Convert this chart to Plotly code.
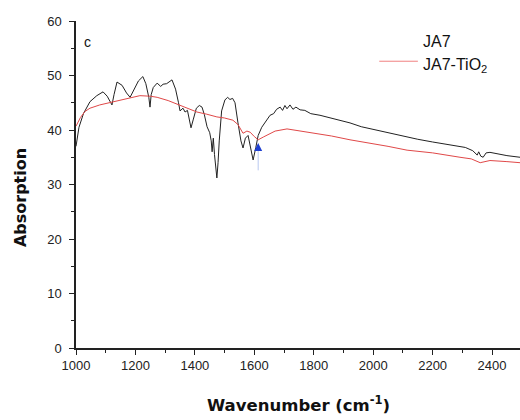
import plotly.graph_objects as go

# JA7 spectrum (wavenumber, absorption)
ja7_x = [1000, 1010, 1025, 1047, 1070, 1091, 1105, 1115, 1121, 1128, 1138, 1155, 1170, 1182, 1195,
         1210, 1225, 1235, 1245, 1249, 1253, 1260, 1273, 1285, 1293, 1305, 1323, 1335, 1345, 1350,
         1360, 1367, 1375, 1387, 1395, 1405, 1415, 1424, 1432, 1441, 1450, 1455, 1458, 1462, 1466,
         1470, 1474, 1478, 1482, 1490, 1501, 1510, 1518, 1527, 1535, 1545, 1555, 1562, 1570, 1579,
         1588, 1596, 1605, 1613, 1625, 1640, 1653, 1665, 1675, 1687, 1695, 1703, 1710, 1720, 1730,
         1740, 1754, 1770, 1790, 1821, 1850, 1880, 1922, 1960, 2000, 2057, 2100, 2150, 2200, 2250,
         2282, 2310, 2335, 2343, 2350, 2355, 2362, 2370, 2380, 2393, 2420, 2450, 2494]
ja7_y = [37.0, 40.5, 43.0, 45.2, 46.3, 47.0, 46.2, 45.0, 44.6, 46.5, 48.8, 48.2, 46.8, 46.0, 47.5,
         49.0, 49.8, 48.5, 46.0, 44.2, 46.5, 47.8, 48.6, 48.0, 48.4, 48.5, 49.2, 47.5, 45.0, 43.5,
         44.0, 43.3, 43.6, 40.4, 42.0, 44.0, 44.5, 44.2, 42.8, 40.6, 39.5, 38.0, 36.0, 38.5, 35.5,
         33.5, 31.2, 34.0, 38.0, 43.5, 45.5, 46.0, 45.6, 45.8, 45.0, 41.3, 38.0, 36.7, 38.5, 39.0,
         36.5, 34.5, 36.8, 39.0, 40.5, 41.8, 42.7, 43.0, 43.8, 44.2, 43.6, 44.5, 43.9, 44.6, 43.8,
         44.2, 43.7, 43.6, 43.0, 42.7, 42.3, 41.9, 41.3, 40.6, 40.1, 39.4, 38.9, 38.3, 37.8, 37.3,
         37.1, 36.8, 36.2, 35.8, 35.4, 36.0, 35.2, 35.0, 35.8, 35.9, 35.6, 35.3, 35.0]

# JA7-TiO2 spectrum
tio2_x = [1000, 1015, 1030, 1047, 1080, 1114, 1140, 1160, 1180, 1215, 1250, 1273, 1310, 1350, 1380,
          1407, 1440, 1474, 1500, 1528, 1545, 1562, 1575, 1586, 1600, 1613, 1630, 1643, 1670, 1710,
          1760, 1811, 1860, 1922, 2000, 2050, 2114, 2200, 2292, 2330, 2360, 2393, 2450, 2494]
tio2_y = [40.7, 42.3, 43.4, 44.0, 44.6, 45.0, 45.3, 45.6, 45.9, 46.3, 46.2, 46.0, 45.4, 44.5, 43.8,
          43.3, 42.9, 42.4, 42.2, 41.8, 41.0, 39.4, 39.8, 39.6, 38.8, 38.2, 38.7, 39.1, 39.8, 40.2,
          39.8, 39.4, 38.9, 38.2, 37.5, 37.0, 36.3, 35.8, 35.0, 34.7, 34.0, 34.4, 34.2, 34.0]

x_ticks = [1000, 1200, 1400, 1600, 1800, 2000, 2200, 2400]
y_ticks = [0, 10, 20, 30, 40, 50, 60]

fig = go.Figure()
fig.add_trace(go.Scatter(x=ja7_x, y=ja7_y, mode="lines", name="JA7",
                         line=dict(color="#222222", width=1)))
fig.add_trace(go.Scatter(x=tio2_x, y=tio2_y, mode="lines", name="JA7-TiO2",
                         line=dict(color="#e04848", width=1)))

tickfont = dict(family="Liberation Sans, Arial", size=13, color="#222")
fig.update_xaxes(range=[1000, 2494], tickvals=x_ticks, ticks="outside", ticklen=5, tickwidth=1,
                 tickcolor="#222", showline=True, linecolor="#222", linewidth=1.5,
                 showgrid=False, zeroline=False, tickfont=tickfont,
                 minor=dict(dtick=100, ticks="outside", ticklen=3, tickcolor="#222", showgrid=False))
fig.update_yaxes(range=[0, 60], tickvals=y_ticks, ticks="outside", ticklen=5, tickwidth=1,
                 tickcolor="#222", showline=True, linecolor="#222", linewidth=1.5,
                 showgrid=False, zeroline=False, tickfont=tickfont, ticklabelstandoff=5,
                 minor=dict(dtick=5, ticks="outside", ticklen=3, tickcolor="#222", showgrid=False))

fig.add_annotation(text="<b>Absorption</b>", xref="paper", yref="paper", x=-0.125, y=0.46,
                   textangle=-90, showarrow=False, font=dict(family="DejaVu Sans", size=16, color="#111"),
                   xanchor="center", yanchor="middle")
fig.add_annotation(text="<b>Wavenumber (cm<sup>-1</sup>)</b>", xref="paper", yref="paper",
                   x=0.5, y=-0.13, showarrow=False, font=dict(family="DejaVu Sans", size=16.5, color="#111"),
                   xanchor="center", yanchor="top")
fig.add_annotation(text="c", x=1040, y=56.2, showarrow=False,
                   font=dict(family="Liberation Sans, Arial", size=14, color="#111"))

# legend (manual)
legfont = dict(family="Liberation Sans, Arial", size=16, color="#111")
fig.add_annotation(text="JA7", xref="paper", yref="paper", x=0.778, y=0.936, xanchor="left",
                   yanchor="middle", showarrow=False, font=legfont)
fig.add_annotation(text="JA7-TiO<sub>2</sub>", xref="paper", yref="paper", x=0.778, y=0.865,
                   xanchor="left", yanchor="middle", showarrow=False, font=legfont)
fig.add_shape(type="line", xref="paper", yref="paper", x0=0.683, x1=0.77, y0=0.877, y1=0.877,
              line=dict(color="#f08080", width=1))

# blue arrow marker
fig.add_shape(type="line", x0=1613, x1=1613, y0=32.6, y1=36.2, line=dict(color="#b8c8f0", width=1))
fig.add_annotation(x=1613, y=37.6, ax=1613, ay=35.9, axref="x", ayref="y", showarrow=True,
                   arrowhead=2, arrowsize=1, arrowwidth=1.6, arrowcolor="#1f3fd0", text="")

fig.update_layout(width=520, height=420, margin=dict(l=76, r=0, t=21, b=72),
                  plot_bgcolor="white", paper_bgcolor="white", showlegend=False)
fig.write_html("out.html")
